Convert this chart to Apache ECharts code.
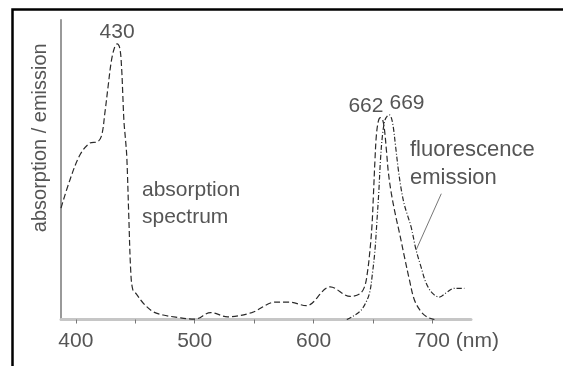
<!DOCTYPE html>
<html>
<head>
<meta charset="utf-8">
<script src="https://cdn.jsdelivr.net/npm/echarts@6/dist/echarts.min.js"></script>
<style>
html,body{margin:0;padding:0;background:#fff;}
#chart{width:563px;height:366px;}
</style>
</head>
<body>
<div id="chart"></div>
<script>
// ---- data ----
var absWavelength = [387.5, 395, 403.4, 411.8, 418.5, 421.8, 424.4, 427.1, 430.0, 432.8, 434.7, 437.0, 438.5, 439.5, 440.5, 441.8, 442.9, 444.5, 446.2, 447.9, 451, 456.6, 465, 473.4, 484, 500, 513.4, 527.7, 548, 568, 579.5, 593.9, 614, 631, 638.7, 642.9, 645.4, 647.5, 649.2, 650.4, 651.7, 652.9, 654.6, 656.3, 658.0, 659.7, 661.3, 663.0, 665.5, 668.9, 672.3, 676.5, 680.7, 684.9, 690.5, 695.8, 701.7];
var absValue = [37.2, 46.6, 54.9, 58.9, 59.4, 61.6, 68.9, 77.7, 86.6, 91.1, 92.0, 90.5, 84, 75, 66, 60, 54, 35, 16, 10, 8.5, 5.5, 2.6, 1.5, 0.8, 0.1, 2.3, 0.9, 2.3, 5.8, 5.8, 4.6, 10.9, 7.7, 8.5, 10.9, 15.9, 23.2, 31.5, 41.6, 53.3, 61.6, 66.3, 67.4, 66.9, 63.3, 56.6, 49, 42, 35, 28.9, 20.9, 13.2, 6.5, 2.6, 0.8, 0];

var emWavelength = [628, 630.3, 638.7, 642.9, 647.1, 649.6, 651.7, 653.4, 655.0, 656.3, 658.0, 660.1, 662.2, 663.9, 665.5, 667.2, 668.9, 671.4, 673.9, 676.5, 679.0, 682.1, 686.3, 690.5, 694.7, 700.0, 705.9, 711.5, 718.5, 726.9];
var emValue = [0, 0.4, 2.6, 4.8, 8.8, 15.5, 23.2, 33.2, 43.2, 53.1, 61.5, 66.6, 68.0, 68.3, 67.3, 64.0, 58.3, 49.9, 43.2, 38.2, 34.9, 30.9, 23.2, 17.5, 12.2, 8.8, 7.5, 8.9, 10.4, 10.4];

var xTickValues = [400, 450, 500, 550, 600, 650, 700];
var xLabelValues = [400, 500, 600, 700];
var xLabelTexts = ['400', '500', '600', '700 (nm)'];

var absPeakWavelengths = [434.7, 656.3];
var absPeakTexts = ['430', '662'];
var emPeakWavelengths = [663.9];
var emPeakTexts = ['669'];

var yAxisName = 'absorption / emission';
var absNote = 'absorption\nspectrum';
var emNote = 'fluorescence\nemission';
var emPointerStart = [707.5, 42];
var emPointerEndWavelength = 686.3;

// ---- chart ----
var TEXT = '#555';
var FONT = 'Liberation Sans, Arial, sans-serif';

function peakMarks(xs, ys, peakXs, peakTexts, aligns) {
  return peakXs.map(function (px, k) {
    var i = xs.indexOf(px);
    return {
      coord: [xs[i], ys[i]],
      symbol: 'circle', symbolSize: 0,
      itemStyle: {color: 'rgba(0,0,0,0)'},
      label: {
        show: true, position: 'top', distance: 1,
        formatter: peakTexts[k], align: aligns[k],
        offset: [aligns[k] === 'right' ? 3 : 0, 0],
        color: TEXT, fontSize: 21, fontFamily: FONT
      }
    };
  });
}

function pairs(xs, ys) { return xs.map(function (x, i) { return [x, ys[i]]; }); }

var chart = echarts.init(document.getElementById('chart'), null, {renderer: 'canvas'});
var emEndIdx = emWavelength.indexOf(emPointerEndWavelength);

chart.setOption({
  animation: false,
  backgroundColor: '#fff',
  grid: {left: 61, right: 92, top: 20, bottom: 46.5},
  xAxis: {
    type: 'value', min: 387.5, max: 732.5,
    splitLine: {show: false},
    axisLine: {show: true, lineStyle: {color: '#c6c6c6', width: 3}},
    axisTick: {show: true, customValues: xTickValues, length: 4, lineStyle: {color: '#777', width: 1}},
    axisLabel: {
      customValues: xLabelValues, margin: 11,
      color: TEXT, fontSize: 21, fontFamily: FONT,
      formatter: function (v) {
        var t = xLabelTexts[xLabelValues.indexOf(v)];
        return t.indexOf(' ') > 0 ? '{pad|}' + t : t;
      },
      rich: {pad: {width: 49}}
    }
  },
  yAxis: {
    type: 'value', min: 0, max: 100,
    splitLine: {show: false},
    axisLine: {show: true, lineStyle: {color: '#999', width: 2}},
    axisTick: {show: false},
    axisLabel: {show: false},
    name: yAxisName, nameLocation: 'middle', nameRotate: 90, nameGap: 11,
    nameTextStyle: {color: TEXT, fontSize: 20, fontFamily: FONT, padding: [0, 0, 0, 64]}
  },
  series: [
    {
      name: 'absorption', type: 'line', smooth: 0.35, symbol: 'none',
      lineStyle: {color: '#2a2a2a', width: 1.2, type: [6, 3]},
      data: pairs(absWavelength, absValue),
      markPoint: {
        silent: true, animation: false,
        data: peakMarks(absWavelength, absValue, absPeakWavelengths, absPeakTexts, ['center', 'right'])
      },
      z: 3
    },
    {
      name: 'emission', type: 'line', smooth: 0.35, symbol: 'none',
      lineStyle: {color: '#2a2a2a', width: 1.2, type: [5, 2, 1, 2]},
      data: pairs(emWavelength, emValue),
      markPoint: {
        silent: true, animation: false,
        data: peakMarks(emWavelength, emValue, emPeakWavelengths, emPeakTexts, ['left'])
      },
      markLine: {
        silent: true, symbol: 'none', label: {show: false}, animation: false,
        lineStyle: {color: '#777', width: 1, type: 'solid'},
        data: [[{coord: emPointerStart}, {coord: [emWavelength[emEndIdx], emValue[emEndIdx]]}]]
      },
      z: 3
    }
  ],
  graphic: [
    {type: 'rect', left: 10, top: 7, shape: {width: 552, height: 400},
     style: {fill: 'none', stroke: '#000', lineWidth: 2.5}, silent: true},
    {type: 'text', left: 142, top: 177,
     style: {text: absNote, fill: TEXT, fontSize: 21, fontFamily: FONT, lineHeight: 27}},
    {type: 'text', left: 410, top: 136,
     style: {text: emNote, fill: TEXT, fontSize: 22, fontFamily: FONT, lineHeight: 28}}
  ]
});
</script>
</body>
</html>
